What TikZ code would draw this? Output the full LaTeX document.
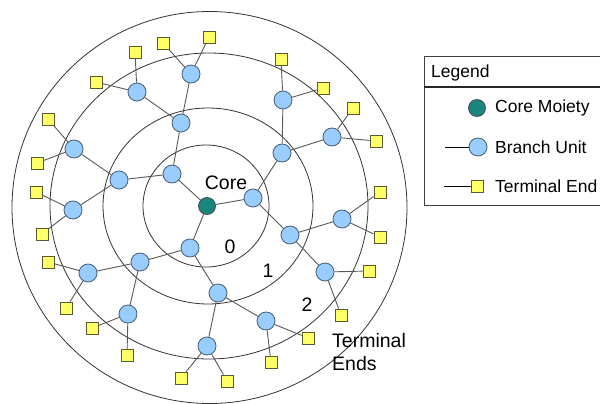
\documentclass[tikz,border=0pt]{standalone}
\usepackage{fontspec}
\setmainfont{Liberation Sans}
\definecolor{coreteal}{RGB}{24,134,126}
\definecolor{unitblue}{RGB}{153,204,255}
\definecolor{unitedge}{RGB}{70,95,120}
\definecolor{termyellow}{RGB}{255,255,102}
\definecolor{termedge}{RGB}{90,90,50}
\begin{document}
\begin{tikzpicture}[x=1pt,y=-1pt,
  ring/.style={draw=black!80, line width=0.8pt},
  link/.style={draw=black!65, line width=0.9pt},
  core/.style={circle, draw=black!70, fill=coreteal, minimum size=17pt, inner sep=0pt, line width=0.8pt},
  branchunit/.style={circle, draw=unitedge, fill=unitblue, minimum size=18pt, inner sep=0pt, line width=0.8pt},
  terminal/.style={rectangle, draw=termedge, fill=termyellow, minimum size=12pt, inner sep=0pt, line width=0.8pt},
  lbl/.style={font=\fontsize{19.5}{22}\selectfont, inner sep=0pt},
  legtext/.style={font=\fontsize{17.5}{20}\selectfont, inner sep=0pt, anchor=west}]

\useasboundingbox (0,0) rectangle (600,404);
\fill[white] (0,0) rectangle (600,404);

% generation rings
\draw[ring] (206,206) ellipse [x radius=63, y radius=61];
\draw[ring] (208,206) ellipse [x radius=105, y radius=98];
\draw[ring] (209,206) ellipse [x radius=159, y radius=153];
\draw[ring] (209.5,207.5) ellipse [x radius=197.5, y radius=196];

% core
\node[core] (c) at (207,206) {};

% generation 1
\node[branchunit] (a) at (172,174) {};
\node[branchunit] (b) at (253,198) {};
\node[branchunit] (d) at (190,248) {};

% generation 2
\node[branchunit] (a1) at (181,123) {};
\node[branchunit] (a2) at (119,180) {};
\node[branchunit] (b1) at (282,153) {};
\node[branchunit] (b2) at (290,235) {};
\node[branchunit] (d1) at (140,262) {};
\node[branchunit] (d2) at (218,293) {};

% generation 3
\node[branchunit] (a11) at (191,74) {};
\node[branchunit] (a12) at (137,92) {};
\node[branchunit] (a21) at (74,149) {};
\node[branchunit] (a22) at (73,210) {};
\node[branchunit] (b11) at (283,100) {};
\node[branchunit] (b12) at (332,137) {};
\node[branchunit] (b21) at (342,219) {};
\node[branchunit] (b22) at (325,272) {};
\node[branchunit] (d11) at (88,273) {};
\node[branchunit] (d12) at (128,314) {};
\node[branchunit] (d21) at (266,321) {};
\node[branchunit] (d22) at (207,346) {};

% branch links
\foreach \p/\q in {c/a, c/b, c/d,
    a/a1, a/a2, b/b1, b/b2, d/d1, d/d2,
    a1/a11, a1/a12, a2/a21, a2/a22, b1/b11, b1/b12, b2/b21, b2/b22,
    d1/d11, d1/d12, d2/d21, d2/d22}
  \draw[link] (\p) -- (\q);

% terminal ends
\foreach \p/\xa/\ya/\xb/\yb in {
    a11/209/37/163/43,  a12/135/52/96/82,
    a21/48/119/37/163,  a22/36/192/42/234,
    b11/281/59/323/88,  b12/353/108/376/141,
    b21/380/192/380/237, b22/369/271/341/315,
    d11/48/262/66/308,  d12/92/328/127/355,
    d21/271/362/308/338, d22/181/378/227/381}
{
  \node[terminal] (t\p-1) at (\xa,\ya) {};
  \node[terminal] (t\p-2) at (\xb,\yb) {};
  \draw[link] (\p) -- (t\p-1);
  \draw[link] (\p) -- (t\p-2);
}

% labels
\node[lbl] (lcore) at (226,183) {Core};
\node[lbl] (l0) at (230,247) {0};
\node[lbl] (l1) at (268,271) {1};
\node[lbl] (l2) at (307,305) {2};
\node[lbl, anchor=north west, align=left, font=\fontsize{19.5}{23}\selectfont] (lends) at (332,333) {Terminal\\Ends};

% legend
\draw[draw=black!75, line width=0.8pt] (424,56) rectangle (612,205);
\draw[draw=black!85, line width=1.6pt] (424,87) -- (612,87);
\node[legtext] (legt) at (431,73) {Legend};
\node[core] (kc) at (477,108) {};
\node[legtext] at (495,108) {Core Moiety};
\coordinate (kb0) at (445,147);
\node[branchunit] (kb) at (478,147) {};
\draw[link, draw=black] (kb0) -- (kb);
\node[legtext] at (495,147) {Branch Unit};
\coordinate (kt0) at (444,186);
\node[terminal] (kt) at (477,186) {};
\draw[link, draw=black] (kt0) -- (kt);
\node[legtext] at (495,186) {Terminal End};
\end{tikzpicture}
\end{document}
